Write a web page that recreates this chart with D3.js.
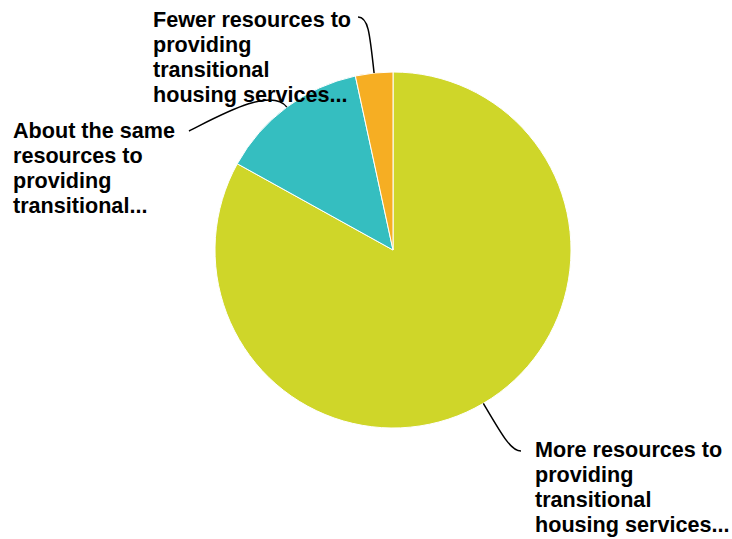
<!DOCTYPE html>
<html>
<head>
<meta charset="utf-8">
<script src="https://cdn.jsdelivr.net/npm/d3@7"></script>
<style>
  html, body { margin: 0; padding: 0; background: #ffffff; }
  svg { display: block; }
  text { font-family: "Liberation Sans", Arial, Helvetica, sans-serif; font-weight: bold; fill: #000000; }
</style>
</head>
<body>
<svg id="chart" width="732" height="539"></svg>
<script>
// ---- data ----
const categories = [
  "More resources to providing transitional housing services...",
  "About the same resources to providing transitional...",
  "Fewer resources to providing transitional housing services..."
];
const labelLines = [
  ["More resources to", "providing", "transitional", "housing services..."],
  ["About the same", "resources to", "providing", "transitional..."],
  ["Fewer resources to", "providing", "transitional", "housing services..."]
];
const values = [49, 8, 2];
const colors = ["#cfd629", "#35bec0", "#f6ae23"];

// ---- layout ----
const W = 732, H = 539;
const cx = 393, cy = 250, R = 178;
const labelPos = [
  { x: 535, y: 457, side: "right" },
  { x: 13, y: 138, side: "left" },
  { x: 153, y: 27, side: "left" }
];
const lineH = 25;

const svg = d3.select("#chart");
const g = svg.append("g").attr("transform", `translate(${cx},${cy})`);

const pie = d3.pie().sort(null).value(d => d);
const arcs = pie(values);
const arc = d3.arc().innerRadius(0).outerRadius(R);

g.selectAll("path.slice")
  .data(arcs)
  .join("path")
  .attr("class", "slice")
  .attr("d", arc)
  .attr("fill", (d, i) => colors[i])
  .attr("stroke", "#ffffff")
  .attr("stroke-width", 1);

// labels
const labels = svg.selectAll("text.lbl")
  .data(arcs)
  .join("text")
  .attr("class", "lbl")
  .attr("font-size", 21.6)
  .attr("x", (d, i) => labelPos[i].x)
  .attr("y", (d, i) => labelPos[i].y);

labels.each(function(d, i) {
  const t = d3.select(this);
  labelLines[i].forEach((ln, k) => {
    t.append("tspan")
      .attr("x", labelPos[i].x)
      .attr("y", labelPos[i].y + k * lineH)
      .text(ln);
  });
});

// leader lines
labels.each(function(d, i) {
  const first = this.querySelector("tspan");
  const w = first.getComputedTextLength();
  const mid = (d.startAngle + d.endAngle) / 2;
  const ux = Math.sin(mid), uy = -Math.cos(mid);
  const sx = cx + ux * R, sy = cy + uy * R;
  let ex, ey, c1, c2;
  const p = labelPos[i];
  if (p.side === "right") {
    ex = p.x - 14; ey = p.y - 6;
    c1 = [sx + ux * 38, sy + uy * 38];
    c2 = [ex - 10, ey];
  } else {
    ex = p.x + w + (i === 2 ? 7 : 14); ey = p.y - (i === 2 ? 10 : 7);
    if (i === 2) {
      c1 = [sx + ux * 42, sy + uy * 42];
      c2 = [ex + 10, ey];
    } else {
      c1 = [sx + ux * 26, sy + uy * 26];
      c2 = [ex + 30, ey - 15];
    }
  }
  svg.append("path")
    .attr("d", `M${sx},${sy}C${c1[0]},${c1[1]} ${c2[0]},${c2[1]} ${ex},${ey}`)
    .attr("fill", "none")
    .attr("stroke", "#000000")
    .attr("stroke-width", 1.5);
});
</script>
</body>
</html>
